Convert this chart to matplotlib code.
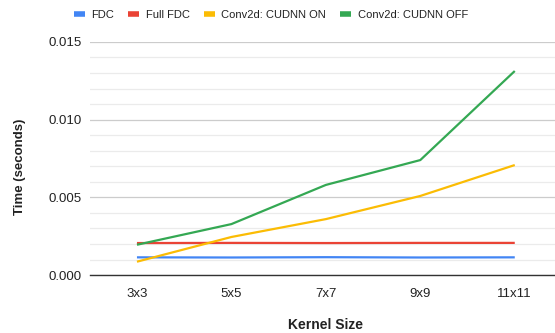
import matplotlib

matplotlib.use("Agg")
import matplotlib.pyplot as plt  # noqa: E402
from matplotlib.ticker import MultipleLocator  # noqa: E402

plt.rcParams["font.family"] = ["Liberation Sans", "DejaVu Sans"]

kernels = ["3x3", "5x5", "7x7", "9x9", "11x11"]
fdc = [0.00114, 0.00113, 0.00115, 0.00113, 0.00114]
full_fdc = [0.00206, 0.00207, 0.00206, 0.00207, 0.00207]
cudnn_on = [0.00086, 0.00245, 0.0036, 0.00509, 0.00708]
cudnn_off = [0.00195, 0.00328, 0.0058, 0.0074, 0.01313]

series = [
    ("FDC", fdc, "#4285F4"),
    ("Full FDC", full_fdc, "#EA4335"),
    ("Conv2d: CUDNN ON", cudnn_on, "#FBBC04"),
    ("Conv2d: CUDNN OFF", cudnn_off, "#34A853"),
]

fig = plt.figure(figsize=(5.55, 3.33), dpi=100)
ax = fig.add_axes([0.1617, 0.174, 0.8383, 0.700])
x = range(len(kernels))
for name, vals, color in series:
    ax.plot(x, vals, color=color, lw=1.6, label=name, solid_capstyle="butt")

ax.set_xlim(-0.5, 4.426)
ax.set_ylim(0, 0.015)
ax.yaxis.set_minor_locator(MultipleLocator(0.001))
ax.set_yticks([0, 0.005, 0.010, 0.015])
ax.set_yticklabels(["0.000", "0.005", "0.010", "0.015"])
ax.set_xticks(list(x))
ax.set_xticklabels(kernels)
ax.grid(True, which="major", axis="y", color="#cccccc", lw=0.9)
ax.grid(True, which="minor", axis="y", color="#ebebeb", lw=0.9)
ax.set_axisbelow(True)
for s in ["top", "right", "left"]:
    ax.spines[s].set_visible(False)
ax.spines["bottom"].set_color("#333333")
ax.spines["bottom"].set_linewidth(1.0)
ax.tick_params(axis="both", which="both", length=0, labelsize=9.5,
               colors="#222222", pad=6)
ax.tick_params(axis="x", pad=9)

fig.text(0.5865, 0.024, "Kernel Size", ha="center", va="center",
         fontsize=10, fontweight="bold", color="#222222")
fig.text(0.036, 0.498, "Time (seconds)", ha="center", va="center",
         rotation=90, fontsize=9.5, fontweight="bold", color="#222222")

fig.legend(loc="upper center", bbox_to_anchor=(0.488, 1.0), ncol=4,
           frameon=False, fontsize=8, handlelength=1.0, handletextpad=0.6,
           columnspacing=1.25, labelcolor="#222222")
for line in fig.legends[0].get_lines():
    line.set_linewidth(4)

fig.savefig("out.png", dpi=100)
